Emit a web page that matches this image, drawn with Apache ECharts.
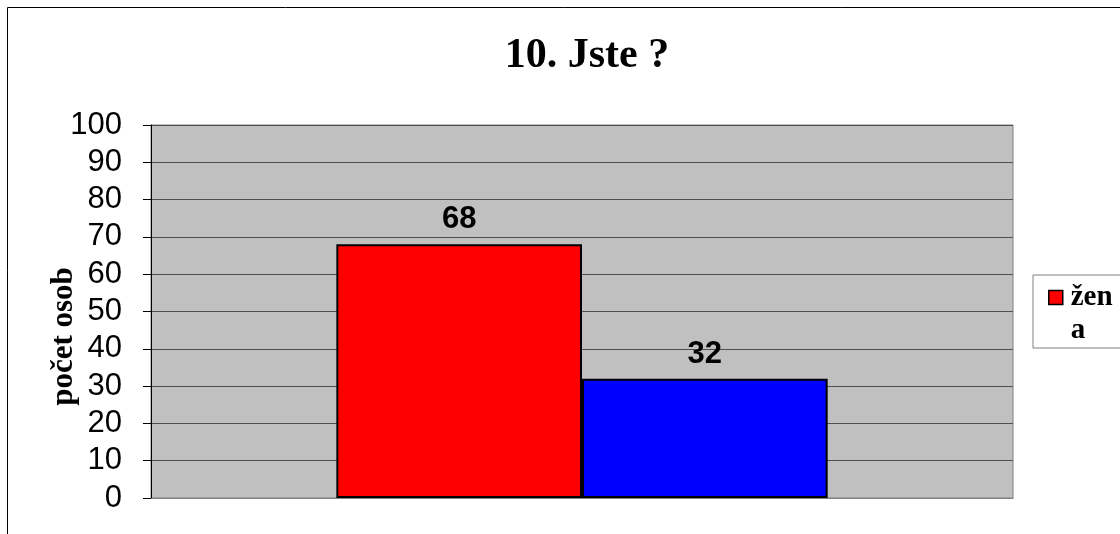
<!DOCTYPE html>
<html><head><meta charset="utf-8">
<script src="https://cdn.jsdelivr.net/npm/echarts@6/dist/echarts.min.js"></script>
<style>html,body{margin:0;padding:0;background:#fff}#c{width:1120px;height:534px}</style>
</head><body><div id="c"></div>
<script>
const categories = ['Jste'];
const seriesNames = ['žena', 'muž'];
const zenaValues = [68];
const muzValues = [32];
const yTicks = [0, 100, 10];

const chart = echarts.init(document.getElementById('c'));
chart.setOption({
  animation: false,
  backgroundColor: '#fff',
  title: {
    text: '10. Jste ?', left: 582, top: 30, textAlign: 'center',
    textStyle: { fontFamily: 'Liberation Serif', fontWeight: 'bold', fontSize: 42, color: '#000' }
  },
  graphic: [{
    type: 'polyline', shape: { points: [[7.5, 534], [7.5, 7.5], [1120, 7.5]] },
    style: { stroke: '#000', lineWidth: 1, fill: null }
  }],
  legend: {
    data: ['žena'], left: 1033, top: 275, orient: 'vertical',
    backgroundColor: '#fff', borderColor: '#808080', borderWidth: 1,
    padding: [6, 40, 1, 15], itemWidth: 14, itemHeight: 47, itemGap: 4,
    icon: 'path://M0,0H14V14H0Z M0,47',
    itemStyle: { borderColor: '#000', borderWidth: 1.5 },
    formatter: n => n === 'žena' ? 'žen\na' : n,
    textStyle: { fontFamily: 'Liberation Serif', fontWeight: 'bold', fontSize: 29, color: '#000', lineHeight: 33, padding: [0, 0, 0, 3] }
  },
  grid: { left: 151, right: 107, top: 125, bottom: 36, show: true, backgroundColor: '#c0c0c0', borderColor: '#808080', borderWidth: 1 },
  xAxis: {
    type: 'category', data: categories,
    axisLine: { lineStyle: { color: '#808080' } }, axisTick: { show: false }, axisLabel: { show: false }
  },
  yAxis: {
    type: 'value', min: yTicks[0], max: yTicks[1], interval: yTicks[2],
    name: 'počet osob', nameLocation: 'middle', nameGap: 72, nameRotate: 90, nameMoveOverlap: false,
    nameTextStyle: { fontFamily: 'Liberation Serif', fontWeight: 'bold', fontSize: 31, color: '#000', padding: [0, 0, 0, -50] },
    axisLine: { show: true, lineStyle: { color: '#000' } },
    axisTick: { show: true, length: 8, lineStyle: { color: '#000' } },
    axisLabel: { fontFamily: 'Liberation Sans', fontSize: 31, color: '#000', margin: 29 },
    splitLine: { lineStyle: { color: '#505050', width: 1 } }
  },
  series: [
    { name: seriesNames[0], type: 'bar', data: zenaValues, barGap: '0%', barCategoryGap: '43%',
      itemStyle: { color: '#ff0000', borderColor: '#000', borderWidth: 2 },
      label: { show: true, position: 'top', distance: 9, fontFamily: 'Liberation Sans', fontWeight: 'bold', fontSize: 31, color: '#000' } },
    { name: seriesNames[1], type: 'bar', data: muzValues,
      itemStyle: { color: '#0000ff', borderColor: '#000', borderWidth: 2 },
      label: { show: true, position: 'top', distance: 9, fontFamily: 'Liberation Sans', fontWeight: 'bold', fontSize: 31, color: '#000' } }
  ]
});
</script></body></html>
